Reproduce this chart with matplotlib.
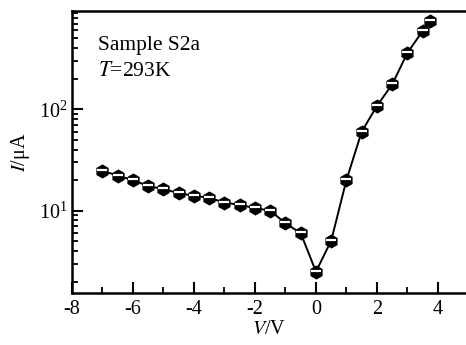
import matplotlib.pyplot as plt
from matplotlib.markers import MarkerStyle
from matplotlib.transforms import Affine2D
from matplotlib.ticker import LogLocator, MultipleLocator, NullFormatter

plt.rcParams['font.family'] = ['Liberation Serif', 'DejaVu Serif']
plt.rcParams['mathtext.fontset'] = 'stix'
plt.rcParams['axes.unicode_minus'] = False

# I-V data of sample S2a at 293 K
voltage = [-7, -6.5, -6, -5.5, -5, -4.5, -4, -3.5, -3, -2.5, -2, -1.5, -1, -0.5,
           0, 0.5, 1, 1.5, 2, 2.5, 3, 3.5, 3.75]
current = [24.8, 22.1, 20.0, 17.5, 16.3, 14.9, 14.0, 13.4, 12.0, 11.4, 10.6, 10.0,
           7.5, 6.0, 2.5, 5.06, 20.1, 60.1, 108, 176, 361, 592, 748]

fig = plt.figure(figsize=(4.66, 3.45), dpi=100)
ax = fig.add_axes([0.1545, 0.1507, 0.8455, 0.8173])

# black hexagons with a thin white stripe across the upper middle
ax.plot(voltage, current, color='black', lw=1.4, marker='h', markersize=9,
        markerfacecolor='black', markeredgecolor='black', markeredgewidth=1)
stripe = MarkerStyle('_', transform=Affine2D().translate(0, 0.08))
ax.plot(voltage, current, ls='none', marker=stripe, markersize=7,
        markeredgecolor='white', markeredgewidth=1.6)

ax.set_yscale('log')
ax.set_xlim(-8, 4.92)
ax.set_ylim(1.54, 931)

ax.xaxis.set_major_locator(MultipleLocator(2))
ax.xaxis.set_minor_locator(MultipleLocator(1))
ax.yaxis.set_major_locator(LogLocator(base=10))
ax.yaxis.set_minor_locator(LogLocator(base=10, subs=range(2, 10)))
ax.yaxis.set_minor_formatter(NullFormatter())

ax.tick_params(which='major', direction='in', length=8, width=1.5, labelsize=14.5,
               top=False, right=False)
ax.tick_params(which='minor', direction='in', length=4, width=1.3,
               top=False, right=False)
ax.tick_params(axis='x', pad=5)

for side in ['left', 'bottom', 'top']:
    ax.spines[side].set_linewidth(1.8)
ax.spines['right'].set_visible(False)

ax.set_xlabel(r'$V$/V', fontsize=14.5, labelpad=1)
ax.set_ylabel(r'$I$/μA', fontsize=14.5, labelpad=5)

ax.text(0.066, 0.879, 'Sample S2a', transform=ax.transAxes, fontsize=15.5,
        va='center', ha='left')
ax.text(0.066, 0.784, r'$T$=293K', transform=ax.transAxes, fontsize=15.5,
        va='center', ha='left')

plt.savefig('out.png', dpi=100)
